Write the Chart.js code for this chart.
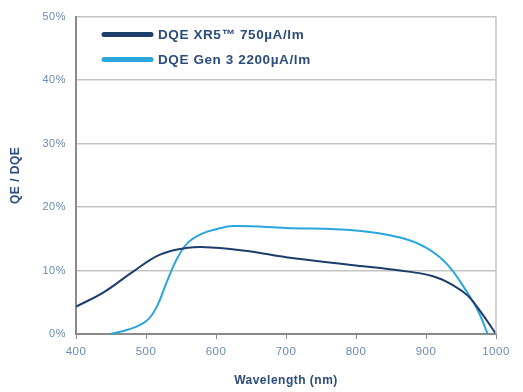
<!DOCTYPE html>
<html>
<head>
<meta charset="utf-8">
<script src="https://cdn.jsdelivr.net/npm/chart.js@4"></script>
<style>
  html, body { margin: 0; padding: 0; background: #fff; }
  #wrap { width: 523px; height: 392px; }
</style>
</head>
<body>
<div id="wrap"><canvas id="qeChart" width="523" height="392"></canvas></div>
<script>
// wavelengths (nm) and DQE values (%)
let xr5Wave = [400, 440, 480, 520, 560, 600, 650, 700, 800, 863, 910, 940, 960, 980, 1000];
let xr5Dqe  = [4.3, 6.6, 9.7, 12.5, 13.6, 13.6, 13.0, 12.1, 10.8, 10.0, 9.1, 7.6, 6.0, 3.2, 0];

let gen3Wave = [449, 475, 501, 515, 530, 545, 560, 580, 600, 625, 700, 800, 863, 900, 930, 958, 975, 988];
let gen3Dqe  = [0, 0.7, 2.1, 4.2, 8.3, 12.0, 14.4, 15.8, 16.5, 17.0, 16.7, 16.3, 15.2, 13.6, 11.0, 6.7, 3.5, 0];

let seriesLabels = ['DQE XR5\u2122 750\u00b5A/lm', 'DQE Gen 3 2200\u00b5A/lm'];
let seriesColors = ['#1d3d6b', '#2aa6dc'];
let xTicks = [400, 500, 600, 700, 800, 900, 1000];
let yTicks = [0, 10, 20, 30, 40, 50];

const FONT = '"Liberation Sans", Arial, sans-serif';

function pts(xs, ys) {
  return xs.map((x, i) => ({ x: x, y: ys[i] }));
}

// wider letter spacing like the original artwork
const spacing = {
  id: 'spacing',
  beforeDraw(chart) { chart.ctx.letterSpacing = '0.5px'; }
};

// legend drawn inside the plot, top-left
const innerLegend = {
  id: 'innerLegend',
  afterDraw(chart) {
    const c = chart.ctx;
    const a = chart.chartArea;
    c.save();
    c.font = 'bold 13.5px ' + FONT;
    c.letterSpacing = '0.6px';
    c.textBaseline = 'middle';
    chart.data.datasets.forEach((ds, i) => {
      const y = a.top + 18 + i * 25;
      c.strokeStyle = ds.borderColor;
      c.lineWidth = 5;
      c.lineCap = 'round';
      c.beginPath();
      c.moveTo(a.left + 28, y);
      c.lineTo(a.left + 75, y);
      c.stroke();
      c.fillStyle = '#2b4c7c';
      c.fillText(ds.label, a.left + 82, y + 1);
    });
    c.restore();
  }
};

const ctx = document.getElementById('qeChart').getContext('2d');

const chart = new Chart(ctx, {
  type: 'line',
  data: {
    datasets: [{
      label: seriesLabels[0],
      data: pts(xr5Wave, xr5Dqe),
      borderColor: seriesColors[0],
      borderWidth: 2,
      pointRadius: 0,
      tension: 0.4
    }, {
      label: seriesLabels[1],
      data: pts(gen3Wave, gen3Dqe),
      borderColor: seriesColors[1],
      borderWidth: 2,
      pointRadius: 0,
      tension: 0.4
    }]
  },
  options: {
    responsive: false,
    animation: false,
    layout: { padding: { top: 16, right: 27, left: 0, bottom: 0 } },
    plugins: {
      legend: { display: false },
      tooltip: { enabled: false }
    },
    scales: {
      x: {
        type: 'linear',
        min: 400,
        max: 1000,
        afterBuildTicks: (s) => { s.ticks = xTicks.map(v => ({ value: v })); },
        afterFit: (s) => { s.height = 58; },
        grid: {
          drawOnChartArea: false,
          drawTicks: true,
          tickLength: 5,
          color: '#8a8a8a'
        },
        border: { color: '#8a8a8a', width: 2 },
        ticks: {
          color: '#6a8bb5',
          font: { family: FONT, size: 11.5 },
          padding: 6,
          callback: (v) => String(v)
        },
        title: {
          display: true,
          text: 'Wavelength (nm)',
          color: '#2b4c7c',
          font: { family: FONT, size: 12, weight: 'bold' },
          padding: { top: 10 }
        }
      },
      y: {
        min: 0,
        max: 50,
        afterBuildTicks: (s) => { s.ticks = yTicks.map(v => ({ value: v })); },
        afterFit: (s) => { s.width = 76; },
        grid: {
          color: '#c4c4c4',
          lineWidth: 1.5,
          drawTicks: false
        },
        border: { color: '#8a8a8a', width: 2 },
        ticks: {
          color: '#6a8bb5',
          font: { family: FONT, size: 11 },
          padding: 10,
          callback: (v) => v + '%'
        },
        title: {
          display: true,
          text: 'QE / DQE',
          color: '#2b4c7c',
          font: { family: FONT, size: 12, weight: 'bold' },
          padding: { top: 8, bottom: 0 }
        }
      }
    }
  },
  plugins: [spacing, innerLegend, {
    id: 'rightBorder',
    afterDraw(chart) {
      const c = chart.ctx;
      const a = chart.chartArea;
      c.save();
      c.strokeStyle = '#c4c4c4';
      c.lineWidth = 1.5;
      c.beginPath();
      c.moveTo(a.right, a.top);
      c.lineTo(a.right, a.bottom);
      c.stroke();
      c.restore();
    }
  }]
});
</script>
</body>
</html>
